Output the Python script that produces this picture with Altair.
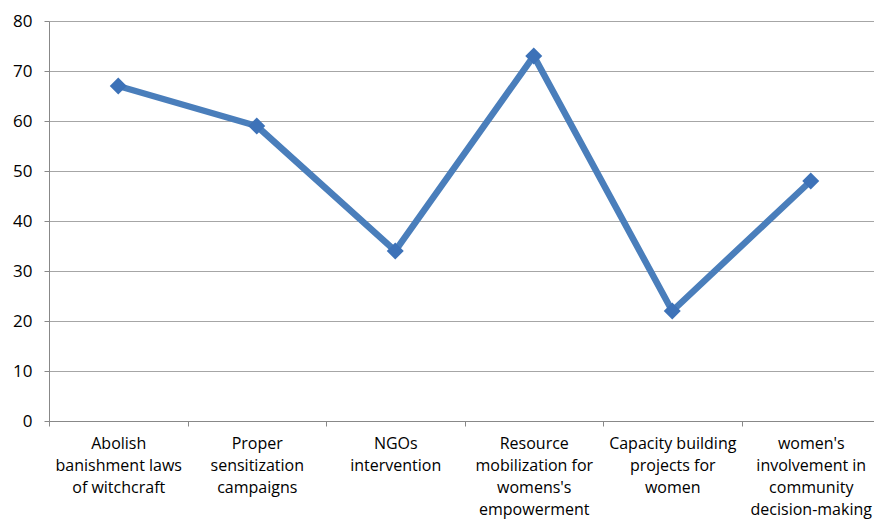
import altair as alt
import pandas as pd

categories = [
    "Abolish|banishment laws|of witchcraft",
    "Proper|sensitization|campaigns",
    "NGOs|intervention",
    "Resource|mobilization for|womens's|empowerment",
    "Capacity building|projects for|women",
    "women's|involvement in|community|decision-making",
]
values = [67, 59, 34, 73, 22, 48]
y_ticks = [0, 10, 20, 30, 40, 50, 60, 70, 80]

df = pd.DataFrame({"cat": categories, "val": values})

FONT = "Open Sans"
BLUE = "#4A7EBB"

x = alt.X(
    "cat:N",
    sort=categories,
    scale=alt.Scale(paddingInner=0, paddingOuter=0),
    axis=alt.Axis(
        title=None,
        labelExpr="split(datum.label, '|')",
        labelAngle=0,
        labelAlign="center",
        labelBaseline="top",
        labelFont=FONT,
        labelFontSize=16,
        labelColor="#000000",
        labelLineHeight=22,
        labelPadding=9,
        labelLimit=0,
        tickBand="extent",
        tickSize=5,
        tickColor="#888888",
        domainColor="#888888",
        grid=False,
    ),
)
y = alt.Y(
    "val:Q",
    scale=alt.Scale(domain=[0, 80], nice=False),
    axis=alt.Axis(
        title=None,
        values=y_ticks,
        labelFont=FONT,
        labelFontSize=17,
        labelColor="#000000",
        labelPadding=12,
        tickSize=5,
        tickColor="#888888",
        domainColor="#888888",
        gridColor="#a6a6a6",
        gridWidth=1,
    ),
)

base = alt.Chart(df).encode(x=x, y=y)
line = base.mark_line(color=BLUE, strokeWidth=6.5)
pts = base.mark_point(shape="diamond", filled=True, size=290, color="#3d72b8", opacity=1)

chart = (line + pts).properties(
    width=831,
    height=400,
    autosize=alt.AutoSizeParams(type="none"),
    padding={"left": 41, "top": 13, "right": -6, "bottom": 101},
).configure_view(stroke=None)

chart.save("out.html", embed_options={"renderer": "svg", "actions": False})
